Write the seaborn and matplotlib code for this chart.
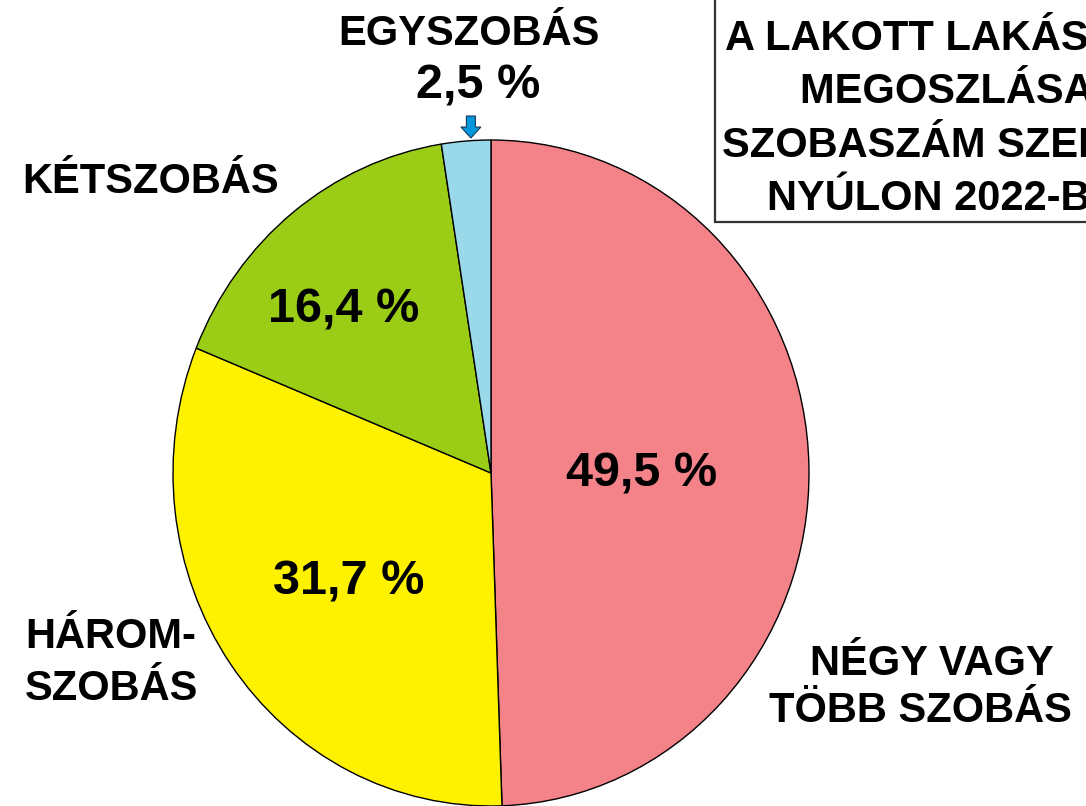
import matplotlib
matplotlib.use("Agg")
import matplotlib.pyplot as plt
from matplotlib.patches import Rectangle, FancyArrow
import numpy as np
import seaborn as sns

# Share of occupied dwellings by number of rooms (%)
categories = ["NÉGY VAGY\nTÖBB SZOBÁS", "HÁROM-\nSZOBÁS", "KÉTSZOBÁS", "EGYSZOBÁS"]
shares = [49.5, 31.7, 16.4, 2.5]
slice_colors = ["#F48289", "#FFF200", "#9BCC16", "#99D9EA"]
title_lines = ["A LAKOTT LAKÁSOK", "MEGOSZLÁSA A", "SZOBASZÁM SZERINT", "NYÚLON 2022-BEN"]

sns.set_theme(style="white")
plt.rcParams["font.family"] = ["Liberation Sans", "DejaVu Sans"]

W, H = 1086, 806
fig = plt.figure(figsize=(W / 100, H / 100), dpi=100)
fig.patch.set_facecolor("white")

# pie centre and radii in pixels (slightly taller than wide)
cx, cy, rx, ry = 491, 473, 318, 333

ax = fig.add_axes([0, 0, 1, 1])
ax.pie(shares, colors=slice_colors, startangle=90, counterclock=False,
       wedgeprops=dict(edgecolor="black", linewidth=1.0))
ax.set_aspect("auto")
ax.set_xlim((0 - cx) / rx, (W - cx) / rx)
ax.set_ylim((cy - H) / ry, cy / ry)
ax.axis("off")


def px(x, y):
    """pixel position (from top-left) -> figure fraction"""
    return x / W, 1 - y / H


def fmt(v):
    return f"{v:.1f}".replace(".", ",") + " %"


bold = dict(fontweight="bold", color="black")

# values inside the slices
for v, (x, y) in zip(shares[:3], [(642, 487), (349, 595), (344, 322)]):
    fig.text(*px(x, y), fmt(v), ha="center", va="baseline", fontsize=35, **bold)

# one-room slice: label above with pointer arrow
fig.text(*px(469, 45), categories[3], ha="center", va="baseline", fontsize=30, **bold)
fig.text(*px(478, 98), fmt(shares[3]), ha="center", va="baseline", fontsize=35, **bold)

ang = np.deg2rad(90 - 360 * (sum(shares[:3]) + shares[3] / 2) / 100)
ax_x = np.cos(ang) + 0.009
ax.add_patch(FancyArrow(ax_x, (cy - 116) / ry, 0, -(138 - 116) / ry,
                        width=9 / rx * 1.0, head_width=20 / rx, head_length=11 / ry,
                        length_includes_head=True, facecolor="#0096DC",
                        edgecolor="#1a3a5a", linewidth=0.8, clip_on=False))

# outer category labels
fig.text(*px(22, 193), categories[2], ha="left", va="baseline", fontsize=30, **bold)
three = categories[1].split("\n")
fig.text(*px(25, 648), three[0], ha="left", va="baseline", fontsize=30, **bold)
fig.text(*px(25, 700), three[1], ha="left", va="baseline", fontsize=30, **bold)
four = categories[0].split("\n")
fig.text(*px(932, 675), four[0], ha="center", va="baseline", fontsize=30, **bold)
fig.text(*px(920, 722), four[1], ha="center", va="baseline", fontsize=30, **bold)

# title box in the upper right corner
box_l, box_b = 715, 222
fig.add_artist(Rectangle(px(box_l, box_b), (W + 20 - box_l) / W, (box_b + 20) / H,
                         transform=fig.transFigure, facecolor="white",
                         edgecolor="#333333", linewidth=1.6, zorder=5))
for line, (x, y) in zip(title_lines, [(725, 50), (800, 103), (722, 157), (767, 210)]):
    fig.text(*px(x, y), line, ha="left", va="baseline", fontsize=30, zorder=6, **bold)

fig.savefig("out.png", dpi=100, facecolor="white")
